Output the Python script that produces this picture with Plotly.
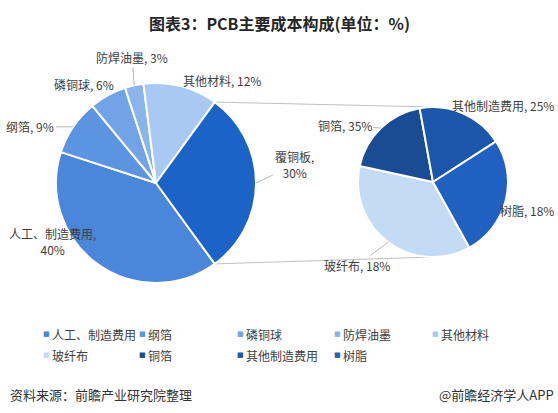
import math
import plotly.graph_objects as go

W, H = 558, 413
FONT = 'Noto Sans CJK SC'

# 主饼图：PCB 成本构成
main_labels = ['人工、制造费用', '纲箔', '磷铜球', '防焊油墨', '其他材料', '覆铜板']
main_values = [40, 9, 6, 3, 12, 30]
main_colors = ['#4a86da', '#5b94e0', '#72a3e6', '#8ab5ec', '#a9c9f2', '#1c63c8']

# 子饼图：覆铜板拆分（扇区大小按图中量取，百分比文字照图中标注）
sub_labels = ['玻纤布', '铜箔', '其他制造费用', '树脂']
sub_values = [35, 18, 18, 25]
sub_text = ['18%', '35%', '25%', '18%']
sub_colors = ['#c4dbf5', '#1a4c94', '#1c56aa', '#1f60c0']

# 图例（覆铜板不出现在图例中）
legend_labels = main_labels[:5] + sub_labels
legend_colors = main_colors[:5] + sub_colors

# 饼图位置（像素）
MAIN = dict(cx=156, cy=183, r=100, rot=144)
SUB = dict(cx=433, cy=182, r=75, rot=151)


def domain(g):
    return dict(x=[(g['cx'] - g['r']) / W, (g['cx'] + g['r']) / W],
                y=[1 - (g['cy'] + g['r']) / H, 1 - (g['cy'] - g['r']) / H])


def slice_angles(values, rot):
    total = sum(values)
    out = []
    a = rot
    for v in values:
        b = a + 360 * v / total
        out.append((a, b))
        a = b
    return out


def edge_point(g, ang):
    t = math.radians(ang)
    px = g['cx'] + g['r'] * math.sin(t)
    py = g['cy'] - g['r'] * math.cos(t)
    return px / W, 1 - py / H


fig = go.Figure()
fig.add_trace(go.Pie(
    labels=main_labels, values=main_values, sort=False, direction='clockwise',
    rotation=MAIN['rot'], domain=domain(MAIN), textinfo='none', showlegend=False,
    marker=dict(colors=main_colors, line=dict(color='white', width=2)),
))
fig.add_trace(go.Pie(
    labels=sub_labels, values=sub_values, sort=False, direction='clockwise',
    rotation=SUB['rot'], domain=domain(SUB), textinfo='none', showlegend=False,
    marker=dict(colors=sub_colors, line=dict(color='white', width=2)),
))

# 数据标签：(x偏移, y偏移, 是否有引导线)
main_offsets = [(-45, -22, False), (-43, 0, True), (-24, -11, False),
                (-2, -28, True), (41, -6, False), (38, -18, True)]
sub_offsets = [(-31, 23, True), (-36, -3, True), (40, -8, False), (21, 10, False)]

annotations = []


def add_label(g, ang, text, off):
    x, y = edge_point(g, ang)
    annotations.append(dict(
        x=x, y=y, xref='paper', yref='paper', text=text,
        showarrow=True, ax=off[0], ay=off[1], arrowhead=0, arrowwidth=0.8,
        arrowcolor='#a6a6a6' if off[2] else 'rgba(0,0,0,0)', standoff=0,
        xanchor='center', yanchor='middle', align='center',
        font=dict(family=FONT, size=12, color='#404040')))


main_ang = slice_angles(main_values, MAIN['rot'])
for i, (lab, v) in enumerate(zip(main_labels, main_values)):
    sep = ',<br>' if i in (0, 5) else ', '
    mid = sum(main_ang[i]) / 2
    add_label(MAIN, mid, f'{lab}{sep}{v}%', main_offsets[i])

sub_ang = slice_angles(sub_values, SUB['rot'])
for i, lab in enumerate(sub_labels):
    mid = sum(sub_ang[i]) / 2
    add_label(SUB, mid, f'{lab}, {sub_text[i]}', sub_offsets[i])

# 连接线：覆铜板扇区两端 -> 子饼图上下端
a0, a1 = main_ang[-1]
shapes = []
for am, asub in ((a0, 0), (a1, 180)):
    x0, y0 = edge_point(MAIN, am)
    x1, y1 = edge_point(SUB, asub)
    shapes.append(dict(type='line', xref='paper', yref='paper', x0=x0, y0=y0,
                       x1=x1, y1=y1, layer='below',
                       line=dict(color='#bfbfbf', width=1)))

# 图例
col_x = [46, 142, 240, 337, 435]
row_y = [334, 355]
for i, (lab, c) in enumerate(zip(legend_labels, legend_colors)):
    px = col_x[i % 5]
    py = row_y[i // 5]
    annotations.append(dict(x=px / W, y=1 - py / H, xref='paper', yref='paper',
                            text='■', showarrow=False, xanchor='center', yanchor='middle',
                            font=dict(family='DejaVu Sans', size=7, color=c)))
    annotations.append(dict(x=(px + 4) / W, y=1 - py / H, xref='paper', yref='paper',
                            text=lab, showarrow=False, xanchor='left', yanchor='middle',
                            font=dict(family=FONT, size=12, color='#404040')))

# 标题与来源
annotations.append(dict(x=0.5, y=1 - 23 / H, xref='paper', yref='paper',
                        text='<b>图表3：PCB主要成本构成(单位：%)</b>', showarrow=False,
                        xanchor='center', yanchor='middle',
                        font=dict(family=FONT, size=16, color='#262626')))
annotations.append(dict(x=8 / W, y=1 - 394 / H, xref='paper', yref='paper',
                        text='资料来源：前瞻产业研究院整理', showarrow=False,
                        xanchor='left', yanchor='middle',
                        font=dict(family=FONT, size=13, color='#333333')))
annotations.append(dict(x=556 / W, y=1 - 394 / H, xref='paper', yref='paper',
                        text='@前瞻经济学人APP', showarrow=False,
                        xanchor='right', yanchor='middle',
                        font=dict(family=FONT, size=13, color='#333333')))

fig.update_layout(
    width=W, height=H, margin=dict(l=0, r=0, t=0, b=0),
    paper_bgcolor='white', plot_bgcolor='white',
    annotations=annotations, shapes=shapes,
    font=dict(family=FONT),
)

# 去掉页面默认的 8px 边距，让图正好铺满窗口；不显示工具栏
fig.write_html("out.html", config={'displayModeBar': False},
               post_script="document.body.style.margin='0';")
